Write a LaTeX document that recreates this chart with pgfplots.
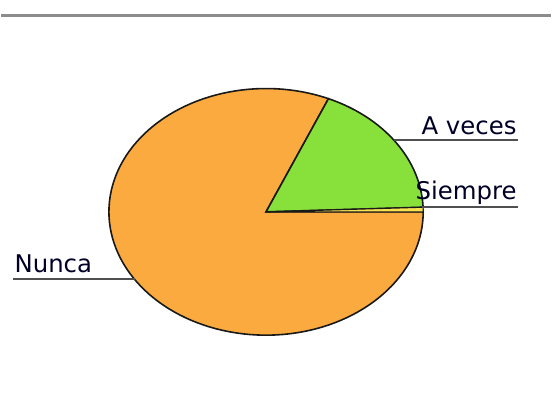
\documentclass[border=0pt]{standalone}
\usepackage{pgfplots}
\pgfplotsset{compat=1.18}
\usepackage{fontspec}
\setmainfont{DejaVu Sans}
\definecolor{cNunca}{RGB}{250,170,62}
\definecolor{cAveces}{RGB}{136,224,58}
\definecolor{cSiempre}{RGB}{248,226,80}
\definecolor{cLine}{RGB}{80,80,80}
% shares in percent
\def\pSiempre{0.6}
\def\pAveces{17.9}
\def\pNunca{81.5}
\pgfmathsetmacro{\aA}{3.6*\pSiempre}
\pgfmathsetmacro{\aB}{\aA+3.6*\pAveces}
\begin{document}
\begin{tikzpicture}
\begin{axis}[scale only axis, width=552pt, height=407pt,
  xmin=0, xmax=552, ymin=0, ymax=407, y dir=reverse,
  axis lines=none, clip=false]
\path (rel axis cs:0,0) rectangle (rel axis cs:1,1);
% top rule
\draw[draw=gray!90, line width=3pt] (0,16) -- (552,16);
\addplot[fill=cNunca, draw=black!90, line width=1.6pt, domain=\aB:360, samples=120, variable=\t]
  ({266+158*cos(\t)}, {213-124*sin(\t)}) -- (266,213) -- cycle;
\addplot[fill=cAveces, draw=black!90, line width=1.6pt, domain=\aA:\aB, samples=40, variable=\t]
  ({266+158*cos(\t)}, {213-124*sin(\t)}) -- (266,213) -- cycle;
\addplot[fill=cSiempre, draw=black!90, line width=1.2pt, domain=0:\aA, samples=5, variable=\t]
  ({266+158*cos(\t)}, {213-124*sin(\t)}) -- (266,213) -- cycle;
% labels
\draw[cLine, line width=2pt] (395,141) -- (519,141);
\node[anchor=base east, font=\fontsize{24.5}{26}\selectfont, text=black!85!blue, inner sep=0pt] at (518,135) {A veces};
\draw[cLine, line width=2pt] (423,208) -- (519,208);
\node[anchor=base east, font=\fontsize{24.5}{26}\selectfont, text=black!85!blue, inner sep=0pt] at (518,201) {Siempre};
\draw[cLine, line width=2pt] (12,281) -- (134,281);
\node[anchor=base west, font=\fontsize{24.5}{26}\selectfont, text=black!85!blue, inner sep=0pt] at (13,274) {Nunca};
\end{axis}
\end{tikzpicture}
\end{document}
